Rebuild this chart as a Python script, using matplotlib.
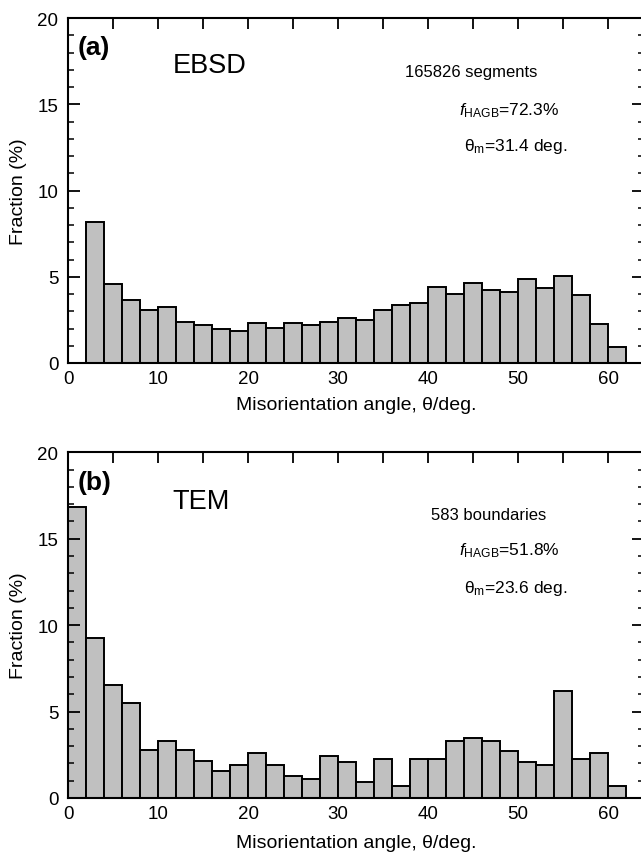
import numpy as np
import matplotlib
matplotlib.use('Agg')
import matplotlib.pyplot as plt
from matplotlib.ticker import MultipleLocator

plt.rcParams['font.family'] = ['Liberation Sans', 'DejaVu Sans']
plt.rcParams['mathtext.fontset'] = 'custom'
plt.rcParams['mathtext.rm'] = 'Liberation Sans'
plt.rcParams['mathtext.it'] = 'Liberation Sans:italic'

# bin left edges (deg.), bin width 2 deg.
ebsd_edges = np.arange(2, 62, 2)
ebsd_frac = [8.2, 4.6, 3.65, 3.05, 3.25, 2.4, 2.2, 2.0, 1.85, 2.3,
             2.05, 2.3, 2.2, 2.35, 2.6, 2.47, 3.05, 3.34, 3.5, 4.4,
             3.98, 4.66, 4.21, 4.12, 4.85, 4.37, 5.04, 3.96, 2.24, 0.93]

tem_edges = np.arange(0, 62, 2)
tem_frac = [16.83, 9.27, 6.54, 5.5, 2.78, 3.3, 2.78, 2.12, 1.58, 1.91,
            2.63, 1.91, 1.25, 1.1, 2.41, 2.1, 0.9, 2.26, 0.71, 2.26,
            2.26, 3.28, 3.46, 3.28, 2.74, 2.1, 1.91, 6.18, 2.26, 2.6, 0.68]

panels = [
    dict(edges=ebsd_edges, frac=ebsd_frac, tag='(a)', method='EBSD',
         count='165826 segments', fhagb='72.3%', theta='31.4',
         pos=[68/641, 1-364/853, 576/641, 345/853],
         txt_y=[18.3, 17.3, 16.9, 14.7, 12.6], count_x=44.8, xl=-0.097),
    dict(edges=tem_edges, frac=tem_frac, tag='(b)', method='TEM',
         count='583 boundaries', fhagb='51.8%', theta='23.6',
         pos=[68/641, 1-799/853, 576/641, 345.7/853],
         txt_y=[18.3, 17.2, 16.4, 14.35, 12.2], count_x=46.7, xl=-0.105),
]

fig = plt.figure(figsize=(6.41, 8.53), dpi=100)

for p in panels:
    ax = fig.add_axes(p['pos'])
    ax.bar(p['edges'], p['frac'], width=2, align='edge',
           color='#c0c0c0', edgecolor='k', linewidth=1.4)
    ax.set_xlim(0, 64)
    ax.set_ylim(0, 20)
    for s in ax.spines.values():
        s.set_linewidth(1.5)

    ax.xaxis.set_major_locator(MultipleLocator(10))
    ax.xaxis.set_minor_locator(MultipleLocator(5))
    ax.yaxis.set_major_locator(MultipleLocator(5))
    ax.yaxis.set_minor_locator(MultipleLocator(1))
    ax.tick_params(axis='x', which='both', direction='in', bottom=False,
                   top=True, length=8, width=1.3, labelsize=13.5, pad=5)
    ax.tick_params(axis='y', which='major', direction='in', left=True,
                   right=True, length=8.5, width=1.3, labelsize=13.5, pad=7)
    ax.tick_params(axis='y', which='minor', direction='in', left=True,
                   right=True, length=4, width=1.1)

    ax.set_xlabel('Misorientation angle, θ/deg.', fontsize=14)
    ax.xaxis.set_label_coords(0.5, p['xl'])
    ax.set_ylabel('Fraction (%)', fontsize=14)
    ax.yaxis.set_label_coords(-0.072, 0.5)

    ty = p['txt_y']
    ax.text(1.1, ty[0], p['tag'], fontsize=19, fontweight='bold',
            ha='left', va='center')
    ax.text(11.6, ty[1], p['method'], fontsize=19.5, ha='left', va='center')
    ax.text(p['count_x'], ty[2], p['count'], fontsize=12,
            ha='center', va='center')
    ax.text(49.0, ty[3], r'$f_{\mathrm{HAGB}}$=' + p['fhagb'], fontsize=12.5,
            ha='center', va='center')
    ax.text(49.8, ty[4], r'θ$_{\mathrm{m}}$=' + p['theta'] + ' deg.',
            fontsize=12.5, ha='center', va='center')

fig.savefig('out.png', dpi=100)
